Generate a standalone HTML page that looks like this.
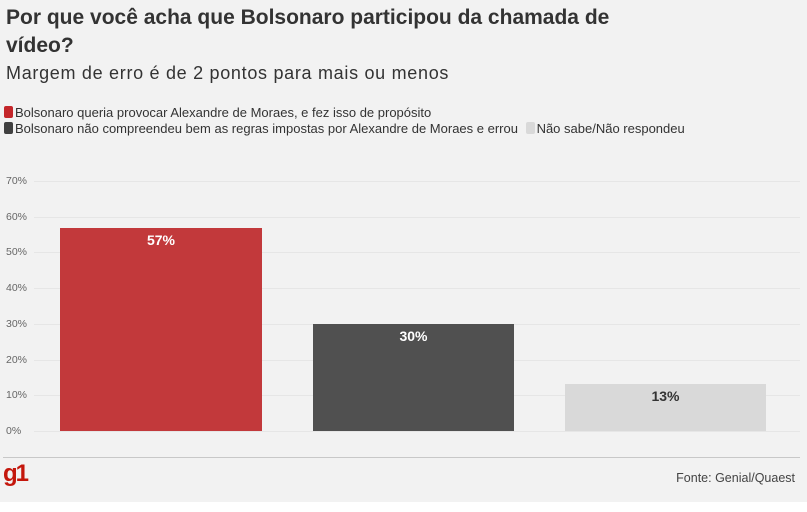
<!DOCTYPE html>
<html><head><meta charset="utf-8"><style>
body{margin:0;width:807px;height:512px;background:#fff;font-family:"Liberation Sans",sans-serif;overflow:hidden}
#bg{position:absolute;left:0;top:0;width:807px;height:502px;background:#f2f2f2}
.t{position:absolute;white-space:nowrap}
.grid{position:absolute;left:34px;width:766px;height:1px;background:#e6e6e6}
.yl{position:absolute;left:6px;font-size:10.5px;color:#666;width:22px;text-align:left}
.bar{position:absolute}
.bl{position:absolute;width:100%;text-align:center;font-weight:bold;font-size:14px}
.sw{display:inline-block;width:9px;height:12px;border-radius:2px;vertical-align:-1px;margin-right:2px}
</style></head><body>
<div id="bg"></div>
<div class="t" style="left:6px;top:4px;font-size:21px;font-weight:bold;color:#333;line-height:28px">Por que você acha que Bolsonaro participou da chamada de<br>vídeo?</div>
<div class="t" style="left:6px;top:63px;font-size:18px;letter-spacing:0.7px;color:#333">Margem de erro é de 2 pontos para mais ou menos</div>
<div class="t" style="left:4px;top:105px;font-size:13px;color:#333"><span class="sw" style="background:#c4262a"></span>Bolsonaro queria provocar Alexandre de Moraes, e fez isso de propósito</div>
<div class="t" style="left:4px;top:121px;font-size:13px;color:#333"><span class="sw" style="background:#404040"></span>Bolsonaro não compreendeu bem as regras impostas por Alexandre de Moraes e errou <span class="sw" style="background:#d9d9d9;margin-left:4px"></span>Não sabe/Não respondeu</div>
<div class="grid" style="top:181px"></div><div class="yl" style="top:175px">70%</div>
<div class="grid" style="top:217px"></div><div class="yl" style="top:211px">60%</div>
<div class="grid" style="top:252px"></div><div class="yl" style="top:246px">50%</div>
<div class="grid" style="top:288px"></div><div class="yl" style="top:282px">40%</div>
<div class="grid" style="top:324px"></div><div class="yl" style="top:318px">30%</div>
<div class="grid" style="top:360px"></div><div class="yl" style="top:354px">20%</div>
<div class="grid" style="top:395px"></div><div class="yl" style="top:389px">10%</div>
<div class="grid" style="top:431px"></div><div class="yl" style="top:425px">0%</div>
<div class="bar" style="left:60px;top:228px;width:202px;height:203px;background:#c2393b"><div class="bl" style="top:4px;color:#fff">57%</div></div>
<div class="bar" style="left:313px;top:324px;width:201px;height:107px;background:#505050"><div class="bl" style="top:4px;color:#fff">30%</div></div>
<div class="bar" style="left:565px;top:384px;width:201px;height:47px;background:#d9d9d9"><div class="bl" style="top:4px;color:#333">13%</div></div>
<div style="position:absolute;left:3px;top:457px;width:797px;height:1px;background:#c8c8c8"></div>
<div class="t" style="left:3px;top:460px;font-size:24px;font-weight:bold;color:#c4170c;letter-spacing:-2px">g1</div>
<div class="t" style="right:12px;top:471px;font-size:12.5px;color:#444">Fonte: Genial/Quaest</div>
</body></html>
